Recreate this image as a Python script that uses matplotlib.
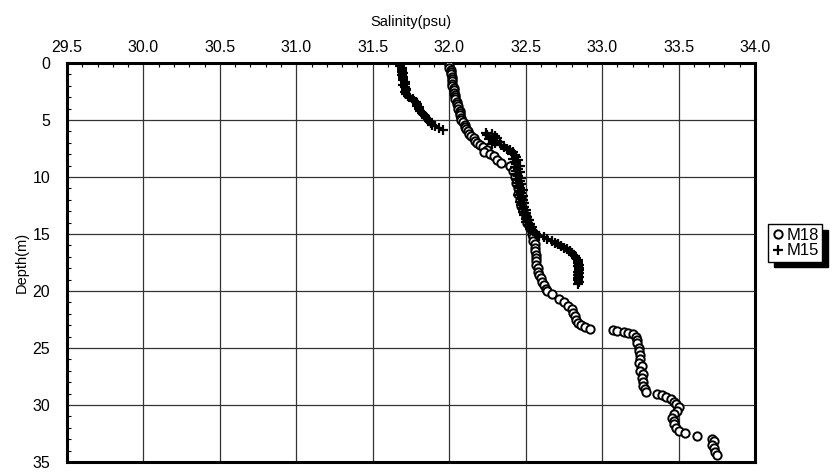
import numpy as np
import matplotlib.pyplot as plt
from matplotlib.ticker import MultipleLocator

plt.rcParams['font.family'] = ['Liberation Sans', 'DejaVu Sans']

# M18 profile (depth m, salinity psu)
m18_depth = [0.0, 0.2, 0.4, 0.6, 0.8, 1.0, 1.2, 1.4, 1.6, 1.8, 2.0, 2.2, 2.4, 2.6,
             2.8, 3.0, 3.2, 3.4, 3.6, 3.8, 4.0, 4.2, 4.4, 4.6, 4.8, 5.0, 5.2, 5.4,
             5.6, 5.8, 6.0, 6.2, 6.4, 6.6, 6.8, 7.0, 7.2, 7.4, 7.6, 7.8, 8.0, 8.2,
             8.5, 8.8, 9.0, 9.5, 10.0, 10.5, 11.0, 11.5, 12.0, 12.5, 13.0, 13.5, 14.0,
             14.5, 15.0, 15.3, 15.6, 15.9, 16.2, 16.5, 16.8, 17.1, 17.4, 17.7, 18.0,
             18.3, 18.6, 18.9, 19.2, 19.5, 19.8, 20.0, 20.3, 20.7, 21.0, 21.3, 21.6,
             21.9, 22.2, 22.5, 22.8, 23.0, 23.2, 23.3, 23.4, 23.5, 23.6, 23.7, 23.8,
             24.0, 24.3, 24.6, 25.0, 25.3, 25.6, 26.0, 26.3, 26.6, 27.0, 27.3, 27.6,
             28.0, 28.3, 28.6, 28.9, 29.0, 29.1, 29.3, 29.5, 29.7, 29.9, 30.2, 30.5,
             30.8, 31.1, 31.4, 31.7, 32.0, 32.3, 32.5, 32.7, 33.0, 33.2, 33.5, 33.8,
             34.1, 34.4]
m18_sal = [32.00, 32.00, 32.00, 32.01, 32.01, 32.01, 32.02, 32.02, 32.02, 32.02, 32.02,
           32.03, 32.03, 32.03, 32.04, 32.04, 32.04, 32.05, 32.05, 32.06, 32.06, 32.07,
           32.07, 32.07, 32.08, 32.08, 32.09, 32.10, 32.10, 32.11, 32.12, 32.13, 32.14,
           32.16, 32.17, 32.18, 32.20, 32.22, 32.25, 32.23, 32.27, 32.29, 32.31, 32.34,
           32.40, 32.42, 32.43, 32.44, 32.45, 32.45, 32.46, 32.47, 32.48, 32.50, 32.51,
           32.53, 32.54, 32.55, 32.55, 32.56, 32.56, 32.56, 32.57, 32.57, 32.57, 32.57,
           32.58, 32.58, 32.59, 32.60, 32.61, 32.62, 32.63, 32.64, 32.67, 32.72, 32.75,
           32.78, 32.80, 32.81, 32.82, 32.83, 32.84, 32.86, 32.89, 32.92, 33.07, 33.10,
           33.14, 33.17, 33.20, 33.22, 33.23, 33.23, 33.24, 33.24, 33.25, 33.25, 33.24,
           33.26, 33.25, 33.27, 33.26, 33.27, 33.27, 33.28, 33.29, 33.36, 33.39, 33.42,
           33.45, 33.47, 33.48, 33.50, 33.49, 33.47, 33.46, 33.47, 33.47, 33.48, 33.50,
           33.54, 33.62, 33.72, 33.73, 33.72, 33.73, 33.74, 33.75]

# M15 profile
m15_depth = [0.0, 0.15, 0.3, 0.45, 0.6, 0.75, 0.9, 1.05, 1.2, 1.35, 1.5, 1.65, 1.8,
             1.95, 2.1, 2.25, 2.4, 2.55, 2.7, 2.85, 3.0, 3.15, 3.3, 3.45, 3.6, 3.75,
             3.9, 4.05, 4.2, 4.35, 4.5, 4.65, 4.8, 4.95, 5.1, 5.25, 5.4, 5.55, 5.7,
             5.9, 6.1, 6.2, 6.3, 6.4, 6.5, 6.6, 6.7, 6.8, 6.9, 7.0, 7.1, 7.2, 7.35,
             7.5, 7.65, 7.8, 7.95, 8.1, 8.25, 8.4, 8.55, 8.7, 8.85, 9.0, 9.15, 9.3,
             9.45, 9.6, 9.75, 9.9, 10.05, 10.2, 10.35, 10.5, 10.65, 10.8, 10.95, 11.1,
             11.25, 11.4, 11.55, 11.7, 11.85, 12.0, 12.15, 12.3, 12.45, 12.6, 12.75,
             12.9, 13.05, 13.2, 13.35, 13.5, 13.65, 13.8, 13.95, 14.1, 14.25, 14.4,
             14.55, 14.7, 14.85, 15.0, 15.15, 15.3, 15.45, 15.6, 15.75, 15.9, 16.05,
             16.2, 16.35, 16.5, 16.65, 16.8, 16.95, 17.1, 17.25, 17.4, 17.55, 17.7,
             17.85, 18.0, 18.15, 18.3, 18.45, 18.6, 18.75, 18.9, 19.05, 19.2, 19.35]
m15_sal = [31.68, 31.68, 31.68, 31.69, 31.69, 31.69, 31.70, 31.69, 31.70, 31.70, 31.70,
           31.71, 31.71, 31.70, 31.71, 31.72, 31.72, 31.71, 31.72, 31.73, 31.74, 31.76,
           31.77, 31.78, 31.79, 31.79, 31.80, 31.80, 31.81, 31.82, 31.83, 31.84, 31.85,
           31.86, 31.87, 31.88, 31.89, 31.91, 31.93, 31.96, 32.24, 32.28, 32.25, 32.30,
           32.27, 32.31, 32.26, 32.29, 32.33, 32.30, 32.28, 32.34, 32.36, 32.38, 32.40,
           32.42, 32.41, 32.43, 32.44, 32.42, 32.45, 32.43, 32.44, 32.46, 32.43, 32.45,
           32.44, 32.46, 32.44, 32.45, 32.47, 32.44, 32.46, 32.45, 32.47, 32.45, 32.46,
           32.48, 32.46, 32.47, 32.45, 32.48, 32.47, 32.48, 32.46, 32.49, 32.47, 32.49,
           32.48, 32.50, 32.48, 32.50, 32.49, 32.51, 32.50, 32.52, 32.50, 32.53, 32.52,
           32.54, 32.53, 32.55, 32.56, 32.57, 32.59, 32.62, 32.64, 32.67, 32.69, 32.71,
           32.73, 32.75, 32.77, 32.79, 32.80, 32.81, 32.82, 32.83, 32.84, 32.84, 32.84,
           32.85, 32.84, 32.85, 32.85, 32.84, 32.85, 32.84, 32.85, 32.84, 32.84, 32.85,
           32.84]

fig = plt.figure(figsize=(8.35, 4.72), dpi=100)
ax = fig.add_axes([0.0802, 0.0212, 0.824, 0.8453])

ax.plot(m18_sal, m18_depth, 'o', mfc='white', mec='black', ms=6, mew=1.4,
        label='M18', zorder=3)
ax.plot(m15_sal, m15_depth, '+', color='black', ms=7, mew=1.6, label='M15', zorder=4)

ax.set_xlim(29.5, 34.0)
ax.set_ylim(35, 0)
ax.xaxis.set_major_locator(MultipleLocator(0.5))
ax.xaxis.set_minor_locator(MultipleLocator(0.1))
ax.yaxis.set_major_locator(MultipleLocator(5))
ax.yaxis.set_minor_locator(MultipleLocator(1))
ax.xaxis.tick_top()
ax.xaxis.set_label_position('top')
ax.xaxis.set_major_formatter(plt.FuncFormatter(lambda v, p: '%.1f' % v))
ax.tick_params(axis='both', which='both', direction='in', labelsize=11.5)
ax.tick_params(axis='x', which='major', length=0, pad=6)
ax.tick_params(axis='y', which='major', length=0, pad=12)
ax.tick_params(which='minor', length=3, width=0.8)
ax.grid(True, which='major', color='#333333', lw=0.9)
for s in ax.spines.values():
    s.set_linewidth(2.2)

ax.set_xlabel('Salinity(psu)', fontsize=10.5, labelpad=10)
ax.set_ylabel('Depth(m)', fontsize=10.5, labelpad=3)

h, l = ax.get_legend_handles_labels()
fig.legend(h, l, loc='upper left', bbox_to_anchor=(0.92, 0.525),
           fontsize=12, frameon=True, fancybox=False,
           shadow={'ox': 4, 'oy': -4, 'color': 'black', 'alpha': 1},
           edgecolor='black', handlelength=0.8, handletextpad=0.1, borderpad=0.2,
           labelspacing=0.05, borderaxespad=0)

fig.savefig('out.png', dpi=100)
